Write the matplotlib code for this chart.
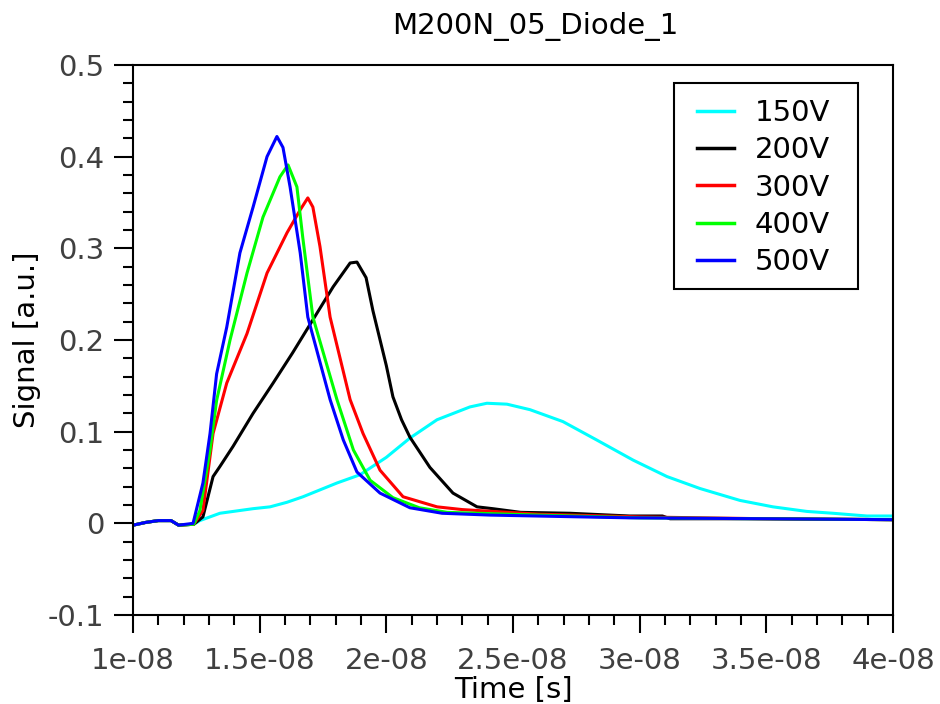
import numpy as np
import matplotlib
matplotlib.use('Agg')
import matplotlib.pyplot as plt
from matplotlib.ticker import MultipleLocator, FuncFormatter
from matplotlib.patches import Rectangle

# waveforms read in ns / arbitrary units
labels = ['150V', '200V', '300V', '400V', '500V']
colors = ['#00ffff', '#000000', '#ff0000', '#00ff00', '#0000ff']

t_150 = [10.0, 10.5, 11.0, 11.5, 11.8, 12.4, 12.64, 13.43, 14.74, 15.41, 16.08, 16.71,
         18.05, 18.96, 20.0, 20.93, 22.0, 23.3, 23.97, 24.76, 25.67, 26.97, 28.3, 29.74,
         31.08, 32.38, 33.96, 35.26, 36.6, 37.63, 38.97, 40.0]
s_150 = [-0.002, 0.001, 0.003, 0.003, -0.002, -0.001, 0.003, 0.011, 0.016, 0.018, 0.023, 0.029,
         0.044, 0.053, 0.072, 0.093, 0.113, 0.127, 0.131, 0.130, 0.124, 0.111, 0.091, 0.069,
         0.051, 0.038, 0.025, 0.018, 0.013, 0.011, 0.008, 0.008]

t_200 = [10.0, 10.5, 11.0, 11.5, 11.8, 12.4, 12.76, 13.16, 13.43, 13.95, 14.74, 15.53,
         16.3, 17.1, 17.9, 18.57, 18.84, 19.2, 19.47, 20.0, 20.26, 20.6, 20.93, 21.72,
         22.63, 23.58, 24.2, 25.3, 27.25, 29.6, 30.9, 31.2, 35.0, 40.0]
s_200 = [-0.002, 0.001, 0.003, 0.003, -0.002, -0.001, 0.007, 0.051, 0.062, 0.084, 0.12, 0.153,
         0.186, 0.222, 0.258, 0.284, 0.285, 0.268, 0.232, 0.172, 0.138, 0.113, 0.094, 0.061,
         0.033, 0.018, 0.016, 0.012, 0.011, 0.008, 0.008, 0.005, 0.005, 0.004]

t_300 = [10.0, 10.5, 11.0, 11.5, 11.8, 12.4, 12.76, 13.16, 13.7, 14.5, 15.29, 16.08,
         16.6, 16.9, 17.1, 17.38, 17.78, 18.57, 19.08, 19.75, 20.66, 22.0, 23.0,
         26.0, 30.0, 35.0, 40.0]
s_300 = [-0.002, 0.001, 0.003, 0.003, -0.002, -0.001, 0.014, 0.098, 0.153, 0.207, 0.273, 0.317,
         0.342, 0.355, 0.345, 0.302, 0.225, 0.135, 0.098, 0.058, 0.029, 0.018, 0.015,
         0.01, 0.007, 0.005, 0.004]

t_400 = [10.0, 10.5, 11.0, 11.5, 11.8, 12.4, 12.64, 13.04, 13.3, 13.83, 14.5, 15.13,
         15.8, 16.12, 16.47, 16.7, 17.1, 18.05, 18.7, 19.36, 20.26, 21.3, 22.4,
         26.0, 30.0, 35.0, 40.0]
s_400 = [-0.002, 0.001, 0.003, 0.003, -0.002, -0.001, 0.014, 0.08, 0.134, 0.2, 0.273, 0.334,
         0.378, 0.391, 0.367, 0.312, 0.225, 0.135, 0.08, 0.047, 0.028, 0.017, 0.012,
         0.009, 0.006, 0.005, 0.004]

t_500 = [10.0, 10.5, 11.0, 11.5, 11.8, 12.37, 12.76, 13.04, 13.3, 13.7, 14.22, 14.74,
         15.29, 15.68, 15.92, 16.2, 16.6, 16.9, 17.78, 18.3, 18.84, 19.75, 20.93,
         22.2, 24.1, 29.6, 35.0, 40.0]
s_500 = [-0.002, 0.001, 0.003, 0.003, -0.002, 0.0, 0.044, 0.098, 0.163, 0.214, 0.295, 0.345,
         0.4, 0.422, 0.41, 0.367, 0.295, 0.225, 0.135, 0.091, 0.056, 0.033, 0.017,
         0.011, 0.009, 0.006, 0.005, 0.004]

times = [t_150, t_200, t_300, t_400, t_500]
signals = [s_150, s_200, s_300, s_400, s_500]

plt.rcParams['font.family'] = 'DejaVu Sans'
fig = plt.figure(figsize=(9.4, 7.04), dpi=100)
ax = fig.add_axes([0.1415, 0.1264, 0.8085, 0.7813])

for t, s, c, lab in zip(times, signals, colors, labels):
    ax.plot(np.array(t) * 1e-9, s, color=c, lw=2.2, label=lab)

ax.set_xlim(1e-8, 4e-8)
ax.set_ylim(-0.1, 0.5)
ax.xaxis.set_major_locator(MultipleLocator(0.5e-8))
ax.xaxis.set_minor_locator(MultipleLocator(0.1e-8))
ax.yaxis.set_major_locator(MultipleLocator(0.1))
ax.yaxis.set_minor_locator(MultipleLocator(0.02))
ax.xaxis.set_major_formatter(FuncFormatter(lambda v, p: '%g' % round(v, 12)))
ax.yaxis.set_major_formatter(FuncFormatter(lambda v, p: '%g' % round(v, 6)))

ax.tick_params(which='both', direction='out', width=1.5, color='black',
               top=False, right=False, labelsize=21, labelcolor='#404040')
ax.tick_params(axis='y', which='major', length=13.5, pad=7)
ax.tick_params(axis='y', which='minor', length=7)
ax.tick_params(axis='x', which='major', length=13, pad=10)
ax.tick_params(axis='x', which='minor', length=7)
for sp in ax.spines.values():
    sp.set_linewidth(1.5)
    sp.set_color('black')

ax.set_xlabel('Time [s]', fontsize=21, labelpad=1)
ax.set_ylabel('Signal [a.u.]', fontsize=21, labelpad=5)
fig.text(0.569, 0.962, 'M200N_05_Diode_1', fontsize=21, ha='center', va='center')

# legend box drawn separately, entries placed inside it
ax.add_patch(Rectangle((674 / 940, 1 - 289 / 704), 184 / 940, 206 / 704,
                       transform=fig.transFigure, clip_on=False, facecolor='white',
                       edgecolor='black', lw=1.5, zorder=4))
leg = ax.legend(loc='upper left', bbox_to_anchor=(697 / 940, 1 - 99 / 704),
                bbox_transform=fig.transFigure, fontsize=21, frameon=False,
                handlelength=1.27, handletextpad=0.72, labelspacing=0.32,
                borderpad=0, borderaxespad=0)
leg.set_zorder(5)
for line in leg.get_lines():
    line.set_linewidth(2.5)

fig.savefig('out.png', dpi=100)
